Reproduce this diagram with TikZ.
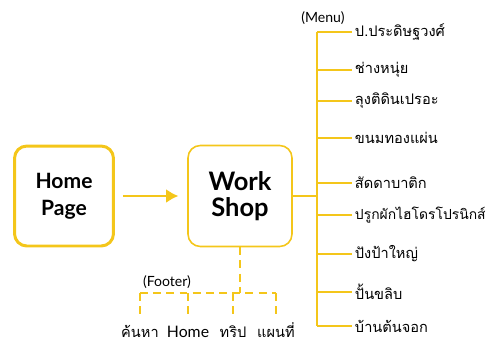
\documentclass[tikz,border=0pt]{standalone}
\usepackage{fontspec}
\setmainfont{Lato}
\newfontfamily\thaifont[Script=Thai]{Loma}
\usetikzlibrary{arrows.meta}
\definecolor{wsyellow}{HTML}{F4C61A}
\tikzset{
    homesty/.style={draw=wsyellow,line width=1.7pt,rounded corners=7pt,minimum width=1.98cm,minimum height=2.0cm,align=center,font=\fontsize{12}{15.5}\selectfont\bfseries},
    shopsty/.style={draw=wsyellow,line width=0.9pt,rounded corners=7pt,minimum width=2.08cm,minimum height=2.02cm,align=center,font=\fontsize{14.5}{15}\selectfont\bfseries},
    arrsty/.style={draw=wsyellow,line width=1.7pt,-{Latex[length=7pt,width=8pt]},shorten <=4.5pt,shorten >=5pt},
    linesty/.style={draw=wsyellow,line width=0.9pt},
    dashsty/.style={draw=wsyellow,line width=0.9pt,dash pattern=on 4.5pt off 3pt},
    itemsty/.style={anchor=west,inner xsep=1.5pt,inner ysep=2pt,font=\thaifont\fontsize{8.3}{11}\selectfont},
    footsty/.style={anchor=north,inner xsep=1pt,inner ysep=0.5pt,text height=9.8pt,text depth=1.5pt,font=\thaifont\fontsize{8.3}{10}\selectfont},
    notesty/.style={inner sep=1pt,font=\fontsize{8}{9}\selectfont},
}

\begin{document}
\begin{tikzpicture}[x=0.02cm,y=-0.02cm]
\useasboundingbox (0,0) rectangle (497,342);

% main boxes
\node[homesty] (home) at (64,196) {Home\\Page};
\node[shopsty] (shop) at (240,196) {Work\\Shop};
\draw[arrsty] (home) -- (shop);

% menu
\coordinate (trunk) at (317,0);
\node[notesty] (menu) at (323,18) {(Menu)};
\node[itemsty] (m1) at (352,32) {ป.ประดิษฐวงศ์};
\node[itemsty] (m2) at (352,70) {ช่างหนุ่ย};
\node[itemsty] (m3) at (352,101) {ลุงติดินเปรอะ};
\node[itemsty] (m4) at (352,138) {ขนมทองแผ่น};
\node[itemsty] (m5) at (352,183) {สัดดาบาติก};
\node[itemsty,font=\thaifont\fontsize{7.9}{11}\selectfont] (m6) at (352,215) {ปรูกผักไฮโดรโปรนิกส์};
\node[itemsty] (m7) at (352,254) {ปังป้าใหญ่};
\node[itemsty] (m8) at (352,292) {ปั้นขลิบ};
\node[itemsty] (m9) at (352,326) {บ้านต้นจอก};

\draw[linesty] (m1.west -| trunk) -- (m9.west -| trunk);
\draw[linesty] (shop.east) -- (shop.east -| trunk);
\draw[linesty] (m1.west -| trunk) -- (m1.west);
\draw[linesty] (m2.west -| trunk) -- (m2.west);
\draw[linesty] (m3.west -| trunk) -- (m3.west);
\draw[linesty] (m4.west -| trunk) -- (m4.west);
\draw[linesty] (m5.west -| trunk) -- (m5.west);
\draw[linesty] (m6.west -| trunk) -- (m6.west);
\draw[linesty] (m7.west -| trunk) -- (m7.west);
\draw[linesty] (m8.west -| trunk) -- (m8.west);
\draw[linesty] (m9.west -| trunk) -- (m9.west);

% footer
\coordinate (fbar) at (0,293);
\node[notesty] (footer) at (167,282) {(Footer)};
\node[footsty] (f1) at (140,319) {ค้นหา};
\node[footsty,font=\fontsize{9}{10}\selectfont] (f2) at (188,319) {Home};
\node[footsty] (f3) at (233,319) {ทริป};
\node[footsty] (f4) at (276,319) {แผนที่};

\draw[dashsty] (shop.south) -- (shop.south |- fbar);
\draw[dashsty] (f1.north |- fbar) -- (f4.north |- fbar);
\draw[dashsty] (f1.north |- fbar) -- (f1.north);
\draw[dashsty] (f2.north |- fbar) -- (f2.north);
\draw[dashsty] (f3.north |- fbar) -- (f3.north);
\draw[dashsty] (f4.north |- fbar) -- (f4.north);
\end{tikzpicture}
\end{document}
